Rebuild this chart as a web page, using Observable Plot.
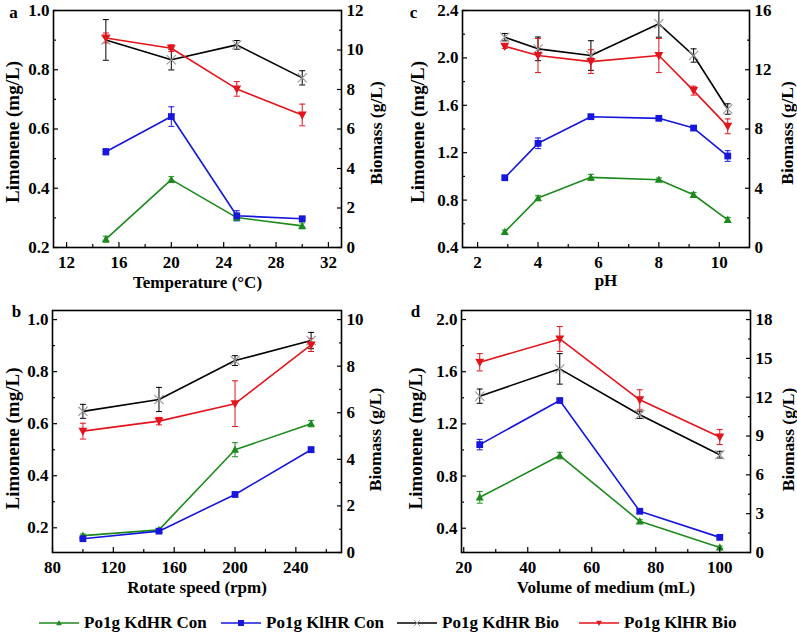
<!DOCTYPE html>
<html><head><meta charset="utf-8">
<script src="https://cdn.jsdelivr.net/npm/d3@7"></script>
<script src="https://cdn.jsdelivr.net/npm/@observablehq/plot@0.6"></script>
<style>
body{margin:0;background:#fff;}
#chart{position:relative;width:797px;height:634px;font-family:"Liberation Serif","Times New Roman",serif;font-weight:bold;color:#000;overflow:hidden;}
.panel{position:absolute;}
.legend-item{position:absolute;top:613px;height:20px;display:flex;align-items:center;font-size:17px;white-space:nowrap;}
.legend-item svg{margin-right:5px;}
</style></head><body><div id="chart"></div>
<script>
// ---------- data ----------
const seriesNames = ["Po1g KdHR Con", "Po1g KlHR Con", "Po1g KdHR Bio", "Po1g KlHR Bio"];
const seriesColors = ["#1d8a1d", "#1616dc", "#000000", "#e3141c"];

// a: temperature
const tempX = [15, 20, 25, 30];
const tempKdCon = [0.228, 0.429, 0.301, 0.273];
const tempKdConErr = [0.010, 0.010, 0.010, 0.010];
const tempKlCon = [0.523, 0.642, 0.307, 0.297];
const tempKlConErr = [0.010, 0.033, 0.017, 0.006];
const tempKdBio = [10.51, 9.51, 10.26, 8.59];
const tempKdBioErr = [1.03, 0.52, 0.22, 0.36];
const tempKlBio = [10.61, 10.09, 8.03, 6.71];
const tempKlBioErr = [0.25, 0.17, 0.37, 0.55];

// b: rotate speed
const rpmX = [100, 150, 200, 250];
const rpmKdCon = [0.170, 0.192, 0.500, 0.600];
const rpmKdConErr = [0.006, 0.005, 0.027, 0.012];
const rpmKlCon = [0.158, 0.187, 0.328, 0.500];
const rpmKlConErr = [0.006, 0.005, 0.006, 0.010];
const rpmKdBio = [6.06, 6.57, 8.24, 9.10];
const rpmKdBioErr = [0.30, 0.52, 0.21, 0.35];
const rpmKlBio = [5.21, 5.64, 6.39, 8.91];
const rpmKlBioErr = [0.34, 0.16, 0.98, 0.28];

// c: pH
const phX = [2.9, 4.0, 5.75, 8.0, 9.15, 10.28];
const phKdCon = [0.532, 0.817, 0.992, 0.972, 0.845, 0.634];
const phKdConErr = [0.015, 0.020, 0.025, 0.015, 0.020, 0.020];
const phKlCon = [0.989, 1.279, 1.504, 1.490, 1.408, 1.172];
const phKlConErr = [0.012, 0.045, 0.015, 0.015, 0.020, 0.045];
const phKdBio = [14.20, 13.41, 12.96, 15.10, 12.96, 9.35];
const phKdBioErr = [0.25, 0.80, 1.00, 0.90, 0.45, 0.35];
const phKlBio = [13.59, 12.96, 12.55, 12.96, 10.59, 8.18];
const phKlBioErr = [0.15, 1.15, 0.80, 1.15, 0.30, 0.50];

// d: volume of medium
const volX = [25, 50, 75, 100];
const volKdCon = [0.637, 0.957, 0.453, 0.253];
const volKdConErr = [0.045, 0.025, 0.012, 0.010];
const volKlCon = [1.041, 1.379, 0.530, 0.330];
const volKlConErr = [0.040, 0.012, 0.012, 0.010];
const volKdBio = [12.08, 14.19, 10.64, 7.56];
const volKdBioErr = [0.55, 1.18, 0.28, 0.26];
const volKlBio = [14.70, 16.50, 11.80, 8.92];
const volKlBioErr = [0.67, 0.96, 0.77, 0.58];

// tick labels
const tempTicks = [12, 16, 20, 24, 28, 32], tempMinor = [14, 18, 22, 26, 30];
const rpmTicks = [80, 120, 160, 200, 240], rpmMinor = [100, 140, 180, 220, 260];
const phTicks = [2, 4, 6, 8, 10], phMinor = [3, 5, 7, 9];
const volTicks = [20, 40, 60, 80, 100], volMinor = [30, 50, 70, 90];

// ---------- symbols ----------
const rad = s => Math.sqrt(s / Math.PI);
const capSym = {draw(c, s) { const r = rad(s); c.moveTo(-r, 0); c.lineTo(r, 0); }};
const triUp = {draw(c, s) { const r = rad(s); c.moveTo(0, -r); c.lineTo(r * 0.95, r * 0.75); c.lineTo(-r * 0.95, r * 0.75); c.closePath(); }};
const triDown = {draw(c, s) { const r = rad(s); c.moveTo(0, r); c.lineTo(r * 0.95, -r * 0.75); c.lineTo(-r * 0.95, -r * 0.75); c.closePath(); }};
const sqSym = {draw(c, s) { const r = rad(s); c.rect(-r, -r, 2 * r, 2 * r); }};
const crossSym = {draw(c, s) { const r = rad(s); c.moveTo(-r, -r); c.lineTo(r, r); c.moveTo(r, -r); c.lineTo(-r, r); }};

const styles = [
  {symbol: triUp, r: 4.2, fill: seriesColors[0], stroke: "none"},
  {symbol: sqSym, r: 3.4, fill: seriesColors[1], stroke: "none"},
  {symbol: crossSym, r: 4.6, fill: "none", stroke: "#999", strokeWidth: 1.1},
  {symbol: triDown, r: 4.7, fill: seriesColors[3], stroke: "none"}
];

const fmt1 = d3.format(".1f");

function panel(cfg) {
  const [L0, L1] = cfg.yDomain, [R0, R1] = cfg.rDomain;
  const toL = v => L0 + (v - R0) * (L1 - L0) / (R1 - R0);
  const fromL = y => R0 + (y - L0) * (R1 - R0) / (L1 - L0);
  const groups = cfg.series.map((s, k) => {
    const f = k >= 2 ? toL : (d => d);
    return s.values.map((v, i) => ({x: cfg.xs[i], y: f(v), lo: f(v - s.errors[i]), hi: f(v + s.errors[i])}));
  });
  const marks = [];
  groups.forEach((data, k) => {
    const col = seriesColors[k];
    marks.push(
      Plot.ruleX(data, {x: "x", y1: "lo", y2: "hi", stroke: col, strokeWidth: 1}),
      Plot.dot(data, {x: "x", y: "hi", symbol: capSym, r: 3, stroke: col, fill: "none", strokeWidth: 1}),
      Plot.dot(data, {x: "x", y: "lo", symbol: capSym, r: 3, stroke: col, fill: "none", strokeWidth: 1})
    );
  });
  groups.forEach((data, k) => {
    marks.push(Plot.line(data, {x: "x", y: "y", stroke: seriesColors[k], strokeWidth: 1.6}));
  });
  groups.forEach((data, k) => {
    const st = styles[k];
    marks.push(Plot.dot(data, {x: "x", y: "y", symbol: st.symbol, r: st.r, fill: st.fill, stroke: st.stroke, strokeWidth: st.strokeWidth || 1}));
  });
  marks.push(
    Plot.frame({stroke: "black", strokeWidth: 1.6}),
    Plot.axisX(cfg.xTicks, {anchor: "bottom", tickSize: -5, fill: "none", label: null, strokeWidth: 1.2}),
    Plot.axisX(cfg.xMinor, {anchor: "bottom", tickSize: -3, fill: "none", label: null, strokeWidth: 1.2}),
    Plot.axisX(cfg.xTicks, {anchor: "bottom", tickSize: 0, tickPadding: 8, label: null, tickFormat: d => String(d)}),
    Plot.axisY(cfg.yTicks, {anchor: "left", tickSize: -5, fill: "none", label: null, strokeWidth: 1.2}),
    Plot.axisY(cfg.yMinor, {anchor: "left", tickSize: -3, fill: "none", label: null, strokeWidth: 1.2}),
    Plot.axisY(cfg.yTicks, {anchor: "left", tickSize: 0, tickPadding: 4, label: null, tickFormat: fmt1}),
    Plot.axisY(cfg.rTicks.map(toL), {anchor: "right", tickSize: -5, fill: "none", label: null, strokeWidth: 1.2}),
    Plot.axisY(cfg.rMinor.map(toL), {anchor: "right", tickSize: -3, fill: "none", label: null, strokeWidth: 1.2}),
    Plot.axisY(cfg.rTicks.map(toL), {anchor: "right", tickSize: 0, tickPadding: 5, label: null, tickFormat: d => String(Math.round(fromL(d)))}),
    Plot.text([cfg.xLabel], {text: d => d, frameAnchor: "bottom", dy: cfg.xLabelDy, textAnchor: "middle", lineAnchor: "middle", fontSize: 17}),
    Plot.text(["Limonene (mg/L)"], {text: d => d, frameAnchor: "left", dx: cfg.yLabelDx, dy: cfg.yLabelDy, rotate: -90, textAnchor: "middle", lineAnchor: "middle", fontSize: 19}),
    Plot.text(["Biomass (g/L)"], {text: d => d, frameAnchor: "right", dx: cfg.rLabelDx, dy: cfg.yLabelDy + 1, rotate: -90, textAnchor: "middle", lineAnchor: "middle", fontSize: 17.5}),
    Plot.text([cfg.letter], {text: d => d, frameAnchor: "top-left", dx: cfg.letterDx, dy: cfg.letterDy, textAnchor: "middle", lineAnchor: "middle", fontSize: 17})
  );
  const svg = Plot.plot({
    width: 400, height: 300,
    marginLeft: cfg.m[0], marginRight: cfg.m[1], marginTop: cfg.m[2], marginBottom: cfg.m[3],
    x: {domain: cfg.xDomain},
    y: {domain: cfg.yDomain},
    style: {fontFamily: "Liberation Serif, Times New Roman, serif", fontSize: "17px", fontWeight: "bold", color: "black", background: "transparent", overflow: "visible"},
    marks
  });
  svg.classList.add("panel");
  svg.style.left = cfg.left + "px";
  svg.style.top = cfg.top + "px";
  return svg;
}

const chart = document.getElementById("chart");
chart.append(
  panel({letter: "a", left: 0, top: 0, m: [53, 59, 10, 53], xs: tempX,
    series: [{values: tempKdCon, errors: tempKdConErr}, {values: tempKlCon, errors: tempKlConErr}, {values: tempKdBio, errors: tempKdBioErr}, {values: tempKlBio, errors: tempKlBioErr}],
    xDomain: [11, 33], yDomain: [0.2, 1.0], rDomain: [0, 12],
    xTicks: tempTicks, xMinor: tempMinor, yTicks: [0.2, 0.4, 0.6, 0.8, 1.0], yMinor: [0.3, 0.5, 0.7, 0.9],
    rTicks: [0, 2, 4, 6, 8, 10, 12], rMinor: [1, 3, 5, 7, 9, 11],
    xLabel: "Temperature (°C)", xLabelDy: 35, yLabelDx: -41, yLabelDy: 3, rLabelDx: 35, letterDx: -40, letterDy: 2}),
  panel({letter: "c", left: 400, top: 0, m: [62, 51, 10, 53], xs: phX,
    series: [{values: phKdCon, errors: phKdConErr}, {values: phKlCon, errors: phKlConErr}, {values: phKdBio, errors: phKdBioErr}, {values: phKlBio, errors: phKlBioErr}],
    xDomain: [1.5, 11], yDomain: [0.4, 2.4], rDomain: [0, 16],
    xTicks: phTicks, xMinor: phMinor, yTicks: [0.4, 0.8, 1.2, 1.6, 2.0, 2.4], yMinor: [0.6, 1.0, 1.4, 1.8, 2.2],
    rTicks: [0, 4, 8, 12, 16], rMinor: [2, 6, 10, 14],
    xLabel: "pH", xLabelDy: 33, yLabelDx: -45, yLabelDy: 3, rLabelDx: 38, letterDx: -49, letterDy: 2}),
  panel({letter: "b", left: 0, top: 300, m: [52, 59, 10, 48], xs: rpmX,
    series: [{values: rpmKdCon, errors: rpmKdConErr}, {values: rpmKlCon, errors: rpmKlConErr}, {values: rpmKdBio, errors: rpmKdBioErr}, {values: rpmKlBio, errors: rpmKlBioErr}],
    xDomain: [80, 270], yDomain: [0.105, 1.035], rDomain: [0, 10.39],
    xTicks: rpmTicks, xMinor: rpmMinor, yTicks: [0.2, 0.4, 0.6, 0.8, 1.0], yMinor: [0.3, 0.5, 0.7, 0.9],
    rTicks: [0, 2, 4, 6, 8, 10], rMinor: [1, 3, 5, 7, 9],
    xLabel: "Rotate speed (rpm)", xLabelDy: 35.5, yLabelDx: -40, yLabelDy: 7, rLabelDx: 34, letterDx: -36, letterDy: 1}),
  panel({letter: "d", left: 400, top: 300, m: [61, 50, 10, 48], xs: volX,
    series: [{values: volKdCon, errors: volKdConErr}, {values: volKlCon, errors: volKlConErr}, {values: volKdBio, errors: volKdBioErr}, {values: volKlBio, errors: volKlBioErr}],
    xDomain: [19.3, 109.6], yDomain: [0.214, 2.069], rDomain: [0, 18.7],
    xTicks: volTicks, xMinor: volMinor, yTicks: [0.4, 0.8, 1.2, 1.6, 2.0], yMinor: [0.6, 1.0, 1.4, 1.8],
    rTicks: [0, 3, 6, 9, 12, 15, 18], rMinor: [1.5, 4.5, 7.5, 10.5, 13.5, 16.5],
    xLabel: "Volume of medium (mL)", xLabelDy: 35.5, yLabelDx: -46, yLabelDy: 7, rLabelDx: 37.5, letterDx: -46, letterDy: 1})
);

// ---------- legend ----------
const legendLefts = [39, 221, 397, 579];
const ns = "http://www.w3.org/2000/svg";
seriesNames.forEach((name, k) => {
  const item = document.createElement("div");
  item.className = "legend-item";
  item.style.left = legendLefts[k] + "px";
  const sw = document.createElementNS(ns, "svg");
  sw.setAttribute("width", 40); sw.setAttribute("height", 12);
  const ln = document.createElementNS(ns, "line");
  ln.setAttribute("x1", 0); ln.setAttribute("x2", 40); ln.setAttribute("y1", 6); ln.setAttribute("y2", 6);
  ln.setAttribute("stroke", seriesColors[k]); ln.setAttribute("stroke-width", 1.6);
  sw.appendChild(ln);
  const p = d3.path();
  styles[k].symbol.draw(p, Math.PI * 3 * 3);
  const mk = document.createElementNS(ns, "path");
  mk.setAttribute("d", p.toString());
  mk.setAttribute("transform", "translate(20,6)");
  mk.setAttribute("fill", styles[k].fill);
  mk.setAttribute("stroke", styles[k].stroke);
  sw.appendChild(mk);
  item.appendChild(sw);
  const t = document.createElement("span");
  t.textContent = name;
  item.appendChild(t);
  chart.appendChild(item);
});
</script></body></html>
